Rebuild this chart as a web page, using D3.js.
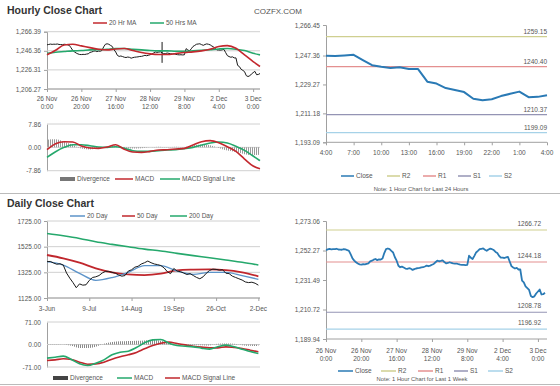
<!DOCTYPE html>
<html><head><meta charset="utf-8">
<script src="https://cdn.jsdelivr.net/npm/d3@7"></script>
<style>
html,body{margin:0;padding:0;background:#fff;}
svg{display:block;font-family:"Liberation Sans",Arial,sans-serif;}
</style></head><body>
<svg id="c" width="560" height="386"></svg>
<script>
// ---------------- DATA ----------------
const hourlyClose = [
1252.6,1253.0,1253.4,1253.1,1253.3,1253.2,1253.5,1253.0,1252.9,1252.8,
1253.2,1253.0,1252.6,1252.0,1249.5,1246.7,1245.2,1244.0,1243.1,1242.5,
1242.4,1242.6,1242.5,1242.9,1243.2,1244.6,1245.1,1245.8,1246.3,1245.5,
1246.0,1245.9,1246.7,1250.5,1253.2,1253.7,1253.2,1252.0,1250.9,1247.5,
1245.1,1241.5,1240.5,1240.9,1240.3,1239.6,1239.3,1239.8,1239.5,1238.6,
1239.2,1239.6,1239.8,1240.0,1240.4,1240.5,1241.0,1241.6,1241.2,1241.6,
1242.2,1242.8,1244.0,1245.1,1244.7,1244.9,1245.3,1244.2,1243.2,1243.5,
1244.0,1243.6,1243.2,1243.0,1243.1,1242.6,1242.3,1242.1,1242.2,1242.0,
1242.2,1248.6,1247.2,1246.3,1248.5,1250.9,1252.0,1253.2,1253.5,1253.7,
1252.8,1252.1,1253.0,1253.6,1253.2,1252.6,1251.3,1250.5,1248.5,1247.2,
1247.2,1247.0,1247.4,1247.8,1244.5,1241.3,1240.3,1239.6,1240.0,1238.9,
1238.9,1231.0,1229.8,1227.0,1225.8,1224.5,1220.3,1219.4,1220.0,1222.0,
1223.4,1224.8,1221.3,1221.5,1222.5];
const hourlyTickIdx = [0,20,40,60,80,100,120];
const hourlyTickDay = ["26 Nov","26 Nov","27 Nov","28 Nov","29 Nov","2 Dec","3 Dec"];
const hourlyTickTime = ["0:00","20:00","16:00","12:00","8:00","4:00","0:00"];
const hourlyYTicks = [1206.27,1226.31,1246.36,1266.39];
const spikeIdx = [67], spikeHigh = [1255.6], spikeLow = [1233.7];

const hSampleIdx = [0,5,10,15,20,25,30,35,40,45,50,55,60,65,70,75,80,85,90,95,100,105,110,115,120,124];
const hMa20 = [1242.1,1246.9,1252.5,1253.2,1251.5,1249.7,1248.0,1247.3,1248.3,1248.7,1246.6,1244.5,1243.1,1242.4,1242.4,1243.5,1244.5,1245.2,1246.3,1248.0,1250.8,1251.8,1249.0,1242.1,1235.1,1229.9];
const hMa50 = [1243.8,1244.9,1245.6,1246.3,1246.6,1247.3,1247.6,1248.0,1248.7,1248.7,1248.0,1247.3,1246.6,1246.3,1246.3,1245.9,1245.9,1246.3,1246.9,1247.6,1248.3,1248.7,1248.0,1246.6,1243.8,1242.1];
const hMacd = [-0.79,1.24,1.91,1.80,0.45,-0.22,-0.34,0.11,0.90,-0.67,-1.57,-1.68,-1.35,-0.90,-0.79,-0.56,-0.34,0.79,1.91,2.25,1.57,0.22,-1.35,-3.93,-6.29,-7.19];
const hSignal = [-3.37,-1.46,0.00,0.90,0.90,0.56,0.11,0.00,0.22,-0.34,-1.12,-1.35,-1.35,-1.12,-0.90,-0.79,-0.45,0.00,0.79,1.46,1.80,1.46,0.34,-1.01,-2.92,-4.49];
const hDiv = [2.6,2.7,1.9,0.9,-0.4,-0.7,-0.4,0.1,0.6,-0.3,-0.4,-0.3,0.0,0.2,0.1,0.2,0.1,0.7,1.0,0.7,-0.2,-1.1,-1.6,-2.3,-2.6,-2.5];
const hMacdTicks = [-7.86,0,7.86];

const dayTickTime = ["4:00","7:00","10:00","13:00","16:00","19:00","22:00","1:00","4:00"];
const last24YTicks = [1193.09,1211.18,1229.27,1247.36,1266.45];
const last24Levels = [1259.15,1240.40,1210.37,1199.09];
const weekYTicks = [1189.94,1210.72,1231.49,1252.27,1273.06];
const weekLevels = [1266.72,1244.18,1208.78,1196.92];
const levelNames = ["R2","R1","S1","S2"];

const dailyClose = [1408,1410,1398,1388,1392,1382,1320,1280,1245,1205,
1235,1225,1228,1262,1285,1290,1300,1320,1333,1332,
1325,1318,1305,1295,1300,1335,1345,1365,1372,1390,
1400,1413,1400,1390,1385,1378,1360,1330,1315,1355,
1335,1330,1320,1308,1315,1300,1285,1275,1290,1318,
1340,1350,1348,1342,1345,1318,1315,1295,1285,1275,
1265,1250,1245,1248,1240,1225];
const dailyTickIdx = [0,26,52,78,104,130];
const dailyTickLabels = ["3-Jun","9-Jul","14-Aug","19-Sep","26-Oct","2-Dec"];
const dailyYTicks = [1125,1325,1525,1725];
const dMaIdx = [0,10,20,30,40,50,60,70,80,90,100,110,120,130];
const dMa20 = [1408,1382,1317,1263,1284,1325,1377,1377,1335,1309,1325,1325,1299,1271];
const dMa50 = [1460,1434,1400,1356,1325,1309,1304,1315,1341,1346,1348,1343,1325,1294];
const dMa200 = [1628,1610,1589,1563,1543,1524,1506,1491,1473,1455,1439,1421,1403,1382];
const dMacdIdx = [0,5,10,15,20,25,30,35,40,45,50,55,60,65,70,75,80,85,90,95,100,105,110,115,120,125,130];
const dMacd = [-43.1,-40.0,-36.8,-47.3,-61.0,-66.3,-58.9,-48.4,-32.6,-24.2,-21.0,-9.5,5.3,14.7,15.8,4.2,-3.2,-5.3,-7.4,-11.6,-14.7,-7.4,-2.1,-7.4,-14.7,-22.1,-28.4];
const dSignal = [-50.5,-48.4,-45.2,-47.3,-55.7,-62.1,-61.0,-55.7,-46.3,-38.9,-32.6,-25.2,-13.7,-3.2,4.2,7.4,3.2,-1.1,-5.3,-8.4,-10.5,-10.5,-7.4,-9.5,-12.6,-17.9,-23.1];
const dDiv = [1,1,0,-4,-11,-11,-7,2,8,10,11,12,13,14,12,4,-1,-2,-2,-2,-3,2,3,2,-2,-4,-5];
const dMacdTicks = [-71,0,71];

// ---------------- HELPERS ----------------
const svg = d3.select("#c");
const defs = svg.append("defs");
function stripes(id, color){
  const p = defs.append("pattern").attr("id",id).attr("patternUnits","userSpaceOnUse")
    .attr("width",2).attr("height",4);
  p.append("rect").attr("x",0).attr("y",0).attr("width",1).attr("height",4).attr("fill",color);
}
stripes("stH","#9a9a9a");
stripes("stD","#8a8a8a");

const TXT = "#555", AX = "#a0a0a0", GRID = "#d0d0d0";
const fmtComma = v => d3.format(",.2f")(v).replace("\u2212","-");
const fmt2 = v => d3.format(".2f")(v).replace("\u2212","-");

function yAxis(x, y, ticks, fmt, gridTo, withTicks){
  const g = svg.append("g").attr("transform",`translate(${x},0)`)
    .call(d3.axisLeft(y).tickValues(ticks).tickFormat(fmt).tickSizeOuter(0)
      .tickSize(withTicks?3:0).tickPadding(withTicks?3:6));
  g.select(".domain").attr("stroke",AX);
  g.selectAll(".tick line").attr("stroke",AX);
  g.selectAll(".tick text").attr("fill",TXT).style("font-size","6.5px")
    .style("font-family","'Liberation Sans',Arial,sans-serif");
  if (gridTo){
    svg.append("g").selectAll("line").data(ticks).join("line")
      .attr("x1",x).attr("x2",gridTo).attr("y1",d=>y(d)).attr("y2",d=>y(d))
      .attr("stroke",GRID).attr("stroke-width",1);
  }
}
function xAxis(yPos, x, idx, l1, l2, x0, x1, labY){
  const g = svg.append("g").attr("transform",`translate(0,${yPos})`)
    .call(d3.axisBottom(x).tickValues(idx).tickFormat("").tickSizeOuter(0).tickSize(3));
  g.select(".domain").attr("d",`M${x0},0H${x1}`).attr("stroke",AX);
  g.selectAll(".tick line").attr("stroke",AX);
  idx.forEach((v,i)=>{
    const t = svg.append("text").attr("x",x(v)).attr("y",labY).attr("text-anchor","middle")
      .attr("fill",TXT).style("font-size","6.5px");
    t.append("tspan").attr("x",x(v)).text(l1[i]);
    if (l2) t.append("tspan").attr("x",x(v)).attr("dy","7.5").text(l2[i]);
  });
}
function line(xs, ys, x, y, color, w, curve){
  const pts = xs.map((v,i)=>[v, ys[i]]);
  svg.append("path").datum(pts)
    .attr("d", d3.line().x(d=>x(d[0])).y(d=>y(d[1])).curve(curve||d3.curveLinear))
    .attr("fill","none").attr("stroke",color).attr("stroke-width",w)
    .attr("stroke-linejoin","round");
}
function histo(xs, ys, x, y, fillId){
  const pts = xs.map((v,i)=>[v, ys[i]]);
  svg.append("path").datum(pts)
    .attr("d", d3.area().x(d=>x(d[0])).y0(y(0)).y1(d=>y(d[1])).curve(d3.curveMonotoneX))
    .attr("fill",`url(#${fillId})`);
}
function legend(items, yPos){
  items.forEach(it=>{
    if (it.bar) svg.append("rect").attr("x",it.x1).attr("y",yPos-2).attr("width",it.x2-it.x1)
      .attr("height",4).attr("fill",it.c);
    else svg.append("line").attr("x1",it.x1).attr("x2",it.x2).attr("y1",yPos).attr("y2",yPos)
      .attr("stroke",it.c).attr("stroke-width",it.w||1.5);
    svg.append("text").attr("x",it.x2+2).attr("y",yPos).attr("dy","0.35em")
      .attr("fill",TXT).style("font-size","6.5px").text(it.t);
  });
}
const idxRange = d3.range(hourlyClose.length);

// ---------------- HEADER ----------------
svg.append("text").attr("x",7).attr("y",14).attr("fill","#333").style("font-size","10.5px")
  .style("font-weight","bold").text("Hourly Close Chart");
svg.append("text").attr("x",278).attr("y",13.5).attr("text-anchor","middle").attr("fill","#555")
  .style("font-size","8px").text("COZFX.COM");
svg.append("line").attr("x1",0).attr("x2",560).attr("y1",193.5).attr("y2",193.5)
  .attr("stroke","#bbb").attr("stroke-width",1);
svg.append("line").attr("x1",0).attr("x2",560).attr("y1",384.5).attr("y2",384.5)
  .attr("stroke","#bbb").attr("stroke-width",1);
svg.append("text").attr("x",7).attr("y",206.5).attr("fill","#333").style("font-size","10.5px")
  .style("font-weight","bold").text("Daily Close Chart");

const C_RED = "#c3282e", C_GREEN = "#25a86c", C_BLUE = "#2a7ab5";
const LVL = ["#cfcf90","#e49090","#9494b4","#a6d2e8"];

// ---------------- PANEL A: hourly ----------------
{
  const x = d3.scaleLinear().domain([0,124]).range([47,260]);
  const y = d3.scaleLinear().domain([1206.27,1266.39]).range([89,31.7]);
  yAxis(47, y, hourlyYTicks, fmtComma, 260, true);
  xAxis(89, x, hourlyTickIdx, hourlyTickDay, hourlyTickTime, 47, 260, 101);
  line(idxRange, hourlyClose, x, y, "#1a1a1a", 1);
  spikeIdx.forEach((s,i)=>svg.append("line").attr("x1",x(s)).attr("x2",x(s))
    .attr("y1",y(spikeHigh[i])).attr("y2",y(spikeLow[i])).attr("stroke","#1a1a1a"));
  line(hSampleIdx, hMa50, x, y, C_GREEN, 1.6, d3.curveMonotoneX);
  line(hSampleIdx, hMa20, x, y, C_RED, 1.6, d3.curveMonotoneX);
  legend([{x1:93,x2:107,c:C_RED,t:"20 Hr MA"},{x1:150,x2:164,c:C_GREEN,t:"50 Hrs MA"}], 23);
}
// ---------------- PANEL B: hourly MACD ----------------
{
  const x = d3.scaleLinear().domain([0,124]).range([47,260]);
  const y = d3.scaleLinear().domain([-7.86,7.86]).range([170.7,124]);
  yAxis(47, y, hMacdTicks, fmt2, 260, false);
  histo(hSampleIdx, hDiv, x, y, "stH");
  line(hSampleIdx, hSignal, x, y, C_GREEN, 1.6, d3.curveMonotoneX);
  line(hSampleIdx, hMacd, x, y, C_RED, 1.6, d3.curveMonotoneX);
  legend([{x1:60,x2:75,c:"#777",t:"Divergence",bar:true},{x1:115,x2:133,c:C_RED,t:"MACD"},
          {x1:160,x2:180,c:C_GREEN,t:"MACD Signal Line"}], 179);
}
// ---------------- PANEL C: last 24 hours ----------------
{
  const data = hourlyClose.slice(hourlyClose.length-25);
  const x = d3.scaleLinear().domain([0,24]).range([326,547]);
  const y = d3.scaleLinear().domain([1193.09,1266.45]).range([142.3,25]);
  yAxis(326, y, last24YTicks, fmtComma, null, true);
  xAxis(142.3, x, d3.range(0,25,3), dayTickTime, null, 326, 547, 155);
  last24Levels.forEach((v,i)=>{
    svg.append("line").attr("x1",326).attr("x2",547).attr("y1",y(v)).attr("y2",y(v))
      .attr("stroke",LVL[i]).attr("stroke-width",1.2);
    svg.append("text").attr("x",547).attr("y",y(v)-3).attr("text-anchor","end")
      .attr("fill",TXT).style("font-size","6.5px").text(v.toFixed(2));
  });
  line(d3.range(25), data, x, y, C_BLUE, 2);
  legend([{x1:341,x2:354,c:C_BLUE,t:"Close",w:1.5},{x1:387,x2:400,c:LVL[0],t:"R2"},
          {x1:423,x2:436,c:LVL[1],t:"R1"},{x1:458,x2:471,c:LVL[2],t:"S1"},
          {x1:489,x2:502,c:LVL[3],t:"S2"}], 176);
  svg.append("text").attr("x",421).attr("y",189).attr("dy","0.35em").attr("text-anchor","middle")
    .attr("fill",TXT).style("font-size","5.8px").text("Note: 1 Hour Chart for Last 24 Hours");
}
// ---------------- PANEL D: daily ----------------
{
  const x = d3.scaleLinear().domain([0,131]).range([47,260]);
  const y = d3.scaleLinear().domain([1125,1725]).range([298,221]);
  yAxis(47, y, dailyYTicks, fmt2, 260, true);
  xAxis(298, x, dailyTickIdx, dailyTickLabels, null, 47, 260, 311);
  line(dMaIdx, dMa200, x, y, C_GREEN, 1.6, d3.curveMonotoneX);
  line(dMaIdx, dMa50, x, y, "#c0272d", 1.8, d3.curveMonotoneX);
  line(dMaIdx, dMa20, x, y, "#5c93c9", 1.3, d3.curveMonotoneX);
  line(dailyClose.map((d,i)=>i*2), dailyClose, x, y, "#1a1a1a", 1);
  legend([{x1:70,x2:85,c:"#5c93c9",t:"20 Day"},{x1:122,x2:135,c:"#c0272d",t:"50 Day"},
          {x1:170,x2:187,c:C_GREEN,t:"200 Day"}], 216);
}
// ---------------- PANEL E: daily MACD ----------------
{
  const x = d3.scaleLinear().domain([0,131]).range([47,260]);
  const y = d3.scaleLinear().domain([-71,71]).range([367,322]);
  yAxis(47, y, dMacdTicks, fmt2, 260, false);
  histo(dMacdIdx, dDiv, x, y, "stD");
  line(dMacdIdx, dSignal, x, y, "#c0272d", 1.6, d3.curveMonotoneX);
  line(dMacdIdx, dMacd, x, y, C_GREEN, 1.6, d3.curveMonotoneX);
  legend([{x1:53,x2:68,c:"#444",t:"Divergence",bar:true},{x1:117,x2:132,c:C_GREEN,t:"MACD"},
          {x1:165,x2:180,c:"#c0272d",t:"MACD Signal Line"}], 378);
}
// ---------------- PANEL F: last week ----------------
{
  const x = d3.scaleLinear().domain([0,124]).range([326,545]);
  const y = d3.scaleLinear().domain([1189.94,1273.06]).range([339,221]);
  yAxis(326, y, weekYTicks, fmtComma, null, true);
  xAxis(339, x, hourlyTickIdx, hourlyTickDay, hourlyTickTime, 326, 547, 353);
  weekLevels.forEach((v,i)=>{
    svg.append("line").attr("x1",326).attr("x2",547).attr("y1",y(v)).attr("y2",y(v))
      .attr("stroke",LVL[i]).attr("stroke-width",1.2);
    svg.append("text").attr("x",541).attr("y",y(v)-4).attr("text-anchor","end")
      .attr("fill",TXT).style("font-size","6.5px").text(v.toFixed(2));
  });
  line(idxRange, hourlyClose, x, y, C_BLUE, 1.8);
  legend([{x1:338,x2:353,c:C_BLUE,t:"Close",w:1.5},{x1:381,x2:396,c:LVL[0],t:"R2"},
          {x1:418,x2:433,c:LVL[1],t:"R1"},{x1:454,x2:468,c:LVL[2],t:"S1"},
          {x1:488,x2:503,c:LVL[3],t:"S2"}], 371);
  svg.append("text").attr("x",422).attr("y",379).attr("dy","0.35em").attr("text-anchor","middle")
    .attr("fill",TXT).style("font-size","5.8px").text("Note: 1 Hour Chart for Last 1 Week");
}
</script>
</body></html>
